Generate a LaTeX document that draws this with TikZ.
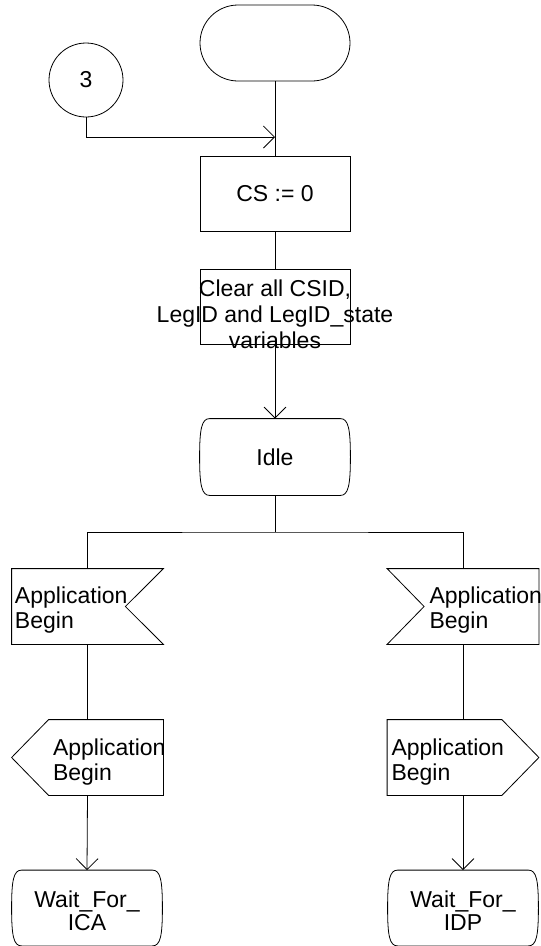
\documentclass[tikz,border=0pt]{standalone}
\usepackage{fontspec}
\setmainfont{Liberation Sans}
\usetikzlibrary{arrows.meta,calc}
\newcommand\stateoutline[1]{%
  \draw ($(#1.north west)+(10,0)$) -- ($(#1.north east)+(-10,0)$)
    .. controls ($(#1.north east)+(-2,0)$) and ($(#1.east)+(0,-28)$) .. (#1.east)
    .. controls ($(#1.east)+(0,28)$) and ($(#1.south east)+(-2,0)$) .. ($(#1.south east)+(-10,0)$)
    -- ($(#1.south west)+(10,0)$)
    .. controls ($(#1.south west)+(2,0)$) and ($(#1.west)+(0,28)$) .. (#1.west)
    .. controls ($(#1.west)+(0,-28)$) and ($(#1.north west)+(2,0)$) .. cycle;}
\begin{document}
\begin{tikzpicture}[x=1pt,y=-1pt,line width=0.8pt,
  txt/.style={font=\fontsize{23}{25}\selectfont,inner sep=0pt},
  blk/.style={draw,rectangle,minimum width=150pt,minimum height=75pt,inner sep=0pt,txt},
  hid/.style={rectangle,minimum width=151pt,minimum height=75pt,inner sep=0pt},
  arr/.style={-{Straight Barb[length=11pt,width=22pt]}}]
\useasboundingbox (0,0) rectangle (541,946);

% start terminator
\node[draw,rounded corners=38pt,minimum width=150pt,minimum height=76pt,inner sep=0pt] (start) at (275,43) {};
% connector 3
\node[draw,circle,minimum size=74pt,inner sep=0pt,txt] (c3) at (86,80) {3};
\coordinate (j) at (275,137);

\node[blk] (cs) at (275,193.5) {CS := 0};
\node[blk] (clr) at (275,306.5) {};
\node[txt,align=center,anchor=north,font=\fontsize{23}{26}\selectfont] (clrt) at (275,279) {Clear all CSID,\\LegID and LegID\_state\\variables};

\node[hid,minimum width=150pt,minimum height=76pt,txt] (idle) at (275,457) {Idle};
\stateoutline{idle}

\coordinate (br) at (275,532);

% inputs
\node[hid] (in1) at (87.5,606.5) {};
\draw (in1.north west) -- (in1.north east) -- ($(in1.east)+(-38,0)$) -- (in1.south east) -- (in1.south west) -- cycle;
\node[txt,align=left,anchor=west] (in1t) at ($(in1.west)+(3,3.5)$) {Application\\Begin};

\node[hid] (in2) at (463,606.5) {};
\draw (in2.north west) -- (in2.north east) -- (in2.south east) -- (in2.south west) -- ($(in2.west)+(37,0)$) -- cycle;
\node[txt,align=left,anchor=west] (in2t) at ($(in2.west)+(42,3.5)$) {Application\\Begin};

% outputs
\node[hid] (out1) at (87.5,757.5) {};
\draw ($(out1.north west)+(37,0)$) -- (out1.north east) -- (out1.south east) -- ($(out1.south west)+(37,0)$) -- (out1.west) -- cycle;
\node[txt,align=left,anchor=west] (out1t) at ($(out1.west)+(41,4.5)$) {Application\\Begin};

\node[hid] (out2) at (463,757.5) {};
\draw (out2.north west) -- ($(out2.north east)+(-37,0)$) -- (out2.east) -- ($(out2.south east)+(-37,0)$) -- (out2.south west) -- cycle;
\node[txt,align=left,anchor=west] (out2t) at ($(out2.west)+(4,4.5)$) {Application\\Begin};

% states
\node[hid,minimum width=150pt] (st1) at (87,908) {};
\stateoutline{st1}
\node[txt,align=center,font=\fontsize{23}{23}\selectfont] (st1t) at (87,911) {Wait\_For\_\\ICA};
\node[hid,minimum width=150pt] (st2) at (463,908) {};
\stateoutline{st2}
\node[txt,align=center,font=\fontsize{23}{23}\selectfont] (st2t) at (463,911) {Wait\_For\_\\IDP};

% connectors
\draw (start.south) -- (cs.north);
\draw[arr] (c3.south) |- (j);
\draw (cs.south) -- (clr.north);
\draw[arr] (clr.south) -- (idle.north);
\draw (idle.south) -- (br);
\draw (in1.north) |- (br) -| (in2.north);
\draw (in1.south) -- (out1.north);
\draw (in2.south) -- (out2.north);
\draw[arr] (out1.south) -- (st1.north);
\draw[arr] (out2.south) -- (st2.north);
\end{tikzpicture}
\end{document}
